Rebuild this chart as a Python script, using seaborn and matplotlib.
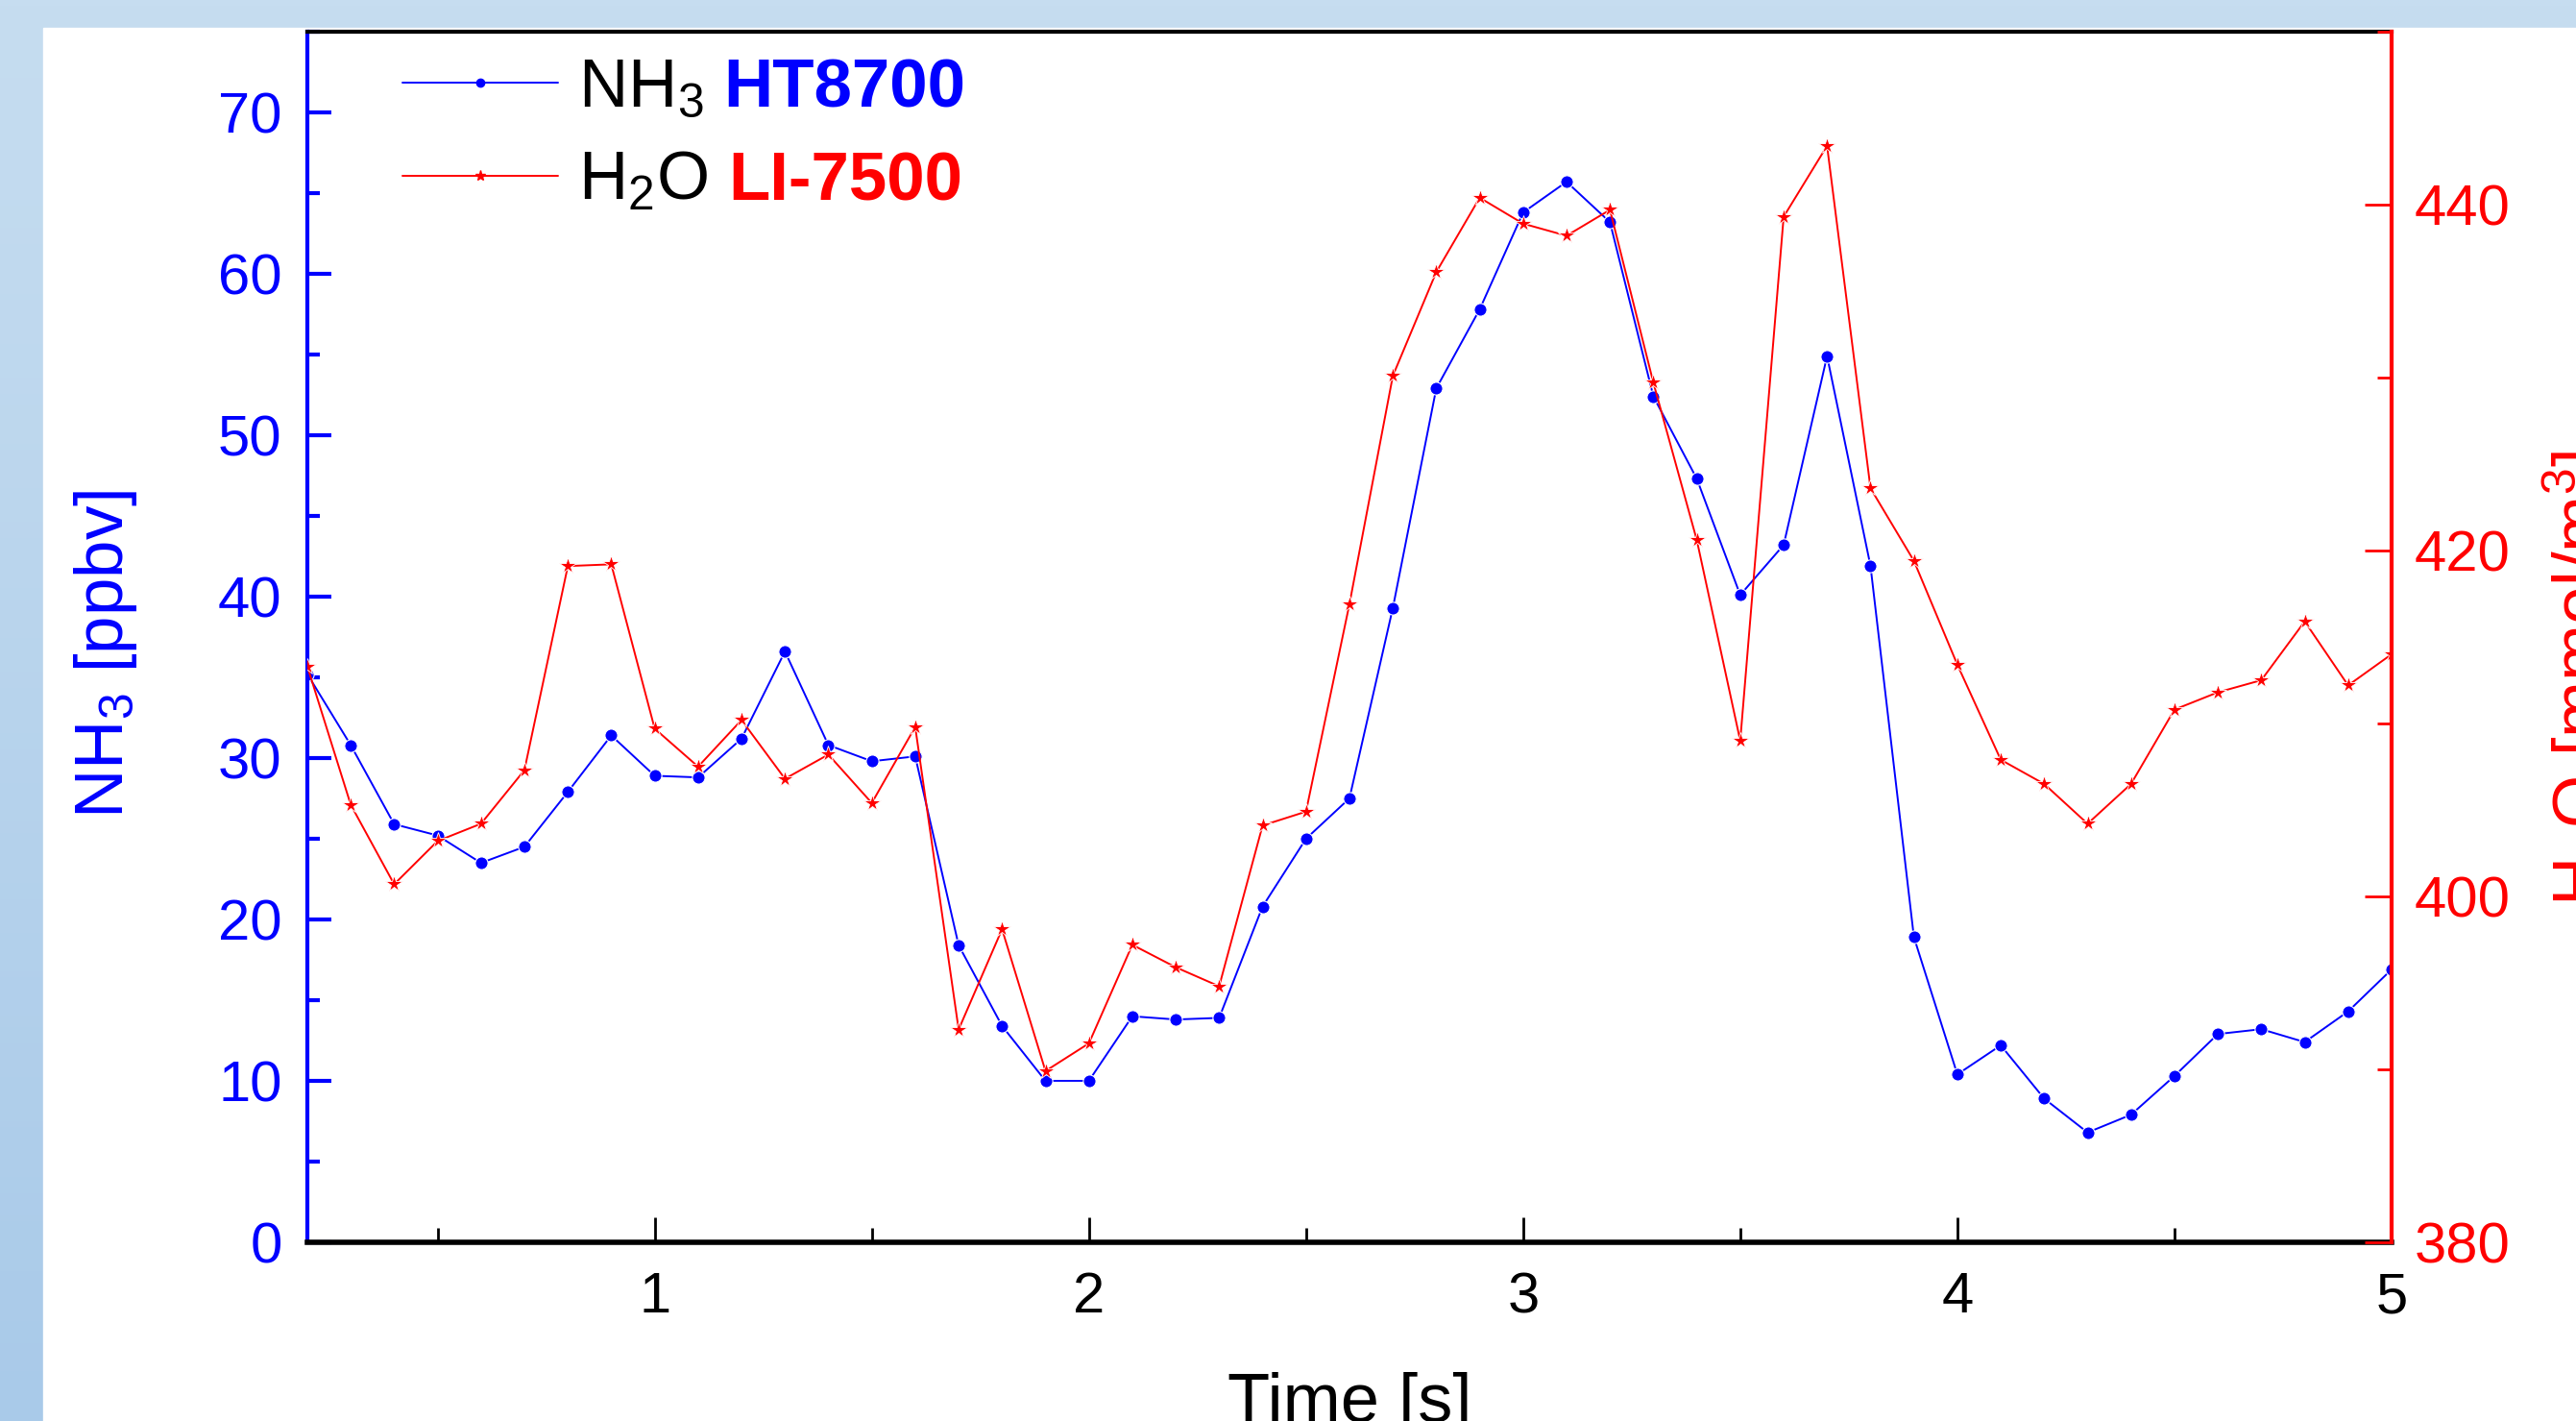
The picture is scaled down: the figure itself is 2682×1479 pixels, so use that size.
import matplotlib
matplotlib.use('Agg')
import matplotlib.pyplot as plt
import numpy as np
import pandas as pd
import seaborn as sns
from matplotlib.colors import LinearSegmentedColormap
from matplotlib.lines import Line2D
from matplotlib.offsetbox import AnchoredOffsetbox, DrawingArea, HPacker, TextArea, VPacker
from matplotlib.patches import Rectangle
from matplotlib.ticker import MultipleLocator

# data (time step 0.1 s)
time_s = [0.2, 0.3, 0.4, 0.5, 0.6, 0.7, 0.8, 0.9, 1.0,
          1.1, 1.2, 1.3, 1.4, 1.5, 1.6, 1.7, 1.8, 1.9, 2.0,
          2.1, 2.2, 2.3, 2.4, 2.5, 2.6, 2.7, 2.8, 2.9, 3.0,
          3.1, 3.2, 3.3, 3.4, 3.5, 3.6, 3.7, 3.8, 3.9, 4.0,
          4.1, 4.2, 4.3, 4.4, 4.5, 4.6, 4.7, 4.8, 4.9, 5.0]
nh3_ppbv = [35.2, 30.8, 25.9, 25.2, 23.5, 24.5, 27.9, 31.4, 28.9,
            28.8, 31.2, 36.6, 30.8, 29.8, 30.1, 18.4, 13.4, 10.0, 10.0,
            14.0, 13.8, 13.9, 20.8, 25.0, 27.5, 39.3, 52.9, 57.8, 63.8,
            65.7, 63.2, 52.4, 47.3, 40.1, 43.2, 54.9, 41.9, 18.9, 10.4,
            12.2, 8.9, 6.8, 7.9, 10.3, 12.9, 13.2, 12.4, 14.3, 16.9]
h2o_mmol = [413.3, 405.3, 400.7, 403.2, 404.2, 407.3, 419.1, 419.2, 409.7,
            407.5, 410.2, 406.8, 408.2, 405.4, 409.8, 392.3, 398.1, 389.9, 391.5,
            397.2, 395.9, 394.8, 404.1, 404.9, 416.9, 430.1, 436.1, 440.4, 438.9,
            438.2, 439.7, 429.7, 420.6, 409.0, 439.3, 443.4, 423.6, 419.4, 413.4,
            407.9, 406.5, 404.2, 406.5, 410.8, 411.8, 412.5, 415.9, 412.2, 414.0]

x_ticks = [1, 2, 3, 4, 5]
left_ticks = [0, 10, 20, 30, 40, 50, 60, 70]
right_ticks = [380, 400, 420, 440]

df = pd.DataFrame({'time': time_s, 'nh3': nh3_ppbv, 'h2o': h2o_mmol})

sns.set_style('ticks')
plt.rcParams['font.family'] = ['Liberation Sans', 'DejaVu Sans']
plt.rcParams['mathtext.fontset'] = 'custom'
plt.rcParams['mathtext.rm'] = 'Liberation Sans'
plt.rcParams['mathtext.it'] = 'Liberation Sans:italic'
plt.rcParams['mathtext.bf'] = 'Liberation Sans:bold'

fig = plt.figure(figsize=(26.82, 14.79), dpi=100)

# light blue slide background with white panel
bg = fig.add_axes([0, 0, 1, 1], zorder=-10)
grad = np.linspace(0, 1, 256).reshape(-1, 1)
bg_cmap = LinearSegmentedColormap.from_list('bg', ['#c6ddf0', '#a9cae9'])
bg.imshow(grad, cmap=bg_cmap, aspect='auto', extent=[0, 1, 0, 1], origin='upper')
bg.add_patch(Rectangle((45 / 2682, 0), 1, 1 - 29 / 1479, color='white'))
bg.set_xlim(0, 1)
bg.set_ylim(0, 1)
bg.axis('off')

ax = fig.add_axes([0.1193, 0.1258, 0.8091, 0.8519])
ax2 = ax.twinx()

sns.lineplot(data=df, x='time', y='nh3', ax=ax, color='blue', marker='o',
             markersize=9.5, linewidth=1.4, markeredgewidth=0.8, legend=False)
sns.lineplot(data=df, x='time', y='h2o', ax=ax2, color='red', marker='*',
             markersize=13, linewidth=1.4, markeredgewidth=0.6, legend=False)

ax.set_xlim(0.2, 5)
ax.set_ylim(0, 75)
ax2.set_ylim(380, 450)

ax.set_xticks(x_ticks)
ax.xaxis.set_minor_locator(MultipleLocator(0.5))
ax.set_yticks(left_ticks)
ax.yaxis.set_minor_locator(MultipleLocator(5))
ax2.set_yticks(right_ticks)
ax2.yaxis.set_minor_locator(MultipleLocator(10))

ax.tick_params(axis='x', which='major', direction='in', length=19, width=2,
               color='black', labelcolor='black', labelsize=43, pad=22)
ax.tick_params(axis='x', which='minor', direction='in', length=11, width=2, color='black')
ax.tick_params(axis='y', which='major', direction='in', length=18, width=3,
               color='blue', labelcolor='blue', labelsize=43, pad=19)
ax.tick_params(axis='y', which='minor', direction='in', length=9, width=3, color='blue')
ax2.tick_params(axis='y', which='major', direction='in', length=20, width=2,
                color='red', labelcolor='red', labelsize=43, pad=17)
ax2.tick_params(axis='y', which='minor', direction='in', length=11, width=2, color='red')

ax.spines['left'].set_color('blue')
ax.spines['left'].set_linewidth(3)
ax.spines['bottom'].set_color('black')
ax.spines['bottom'].set_linewidth(4)
ax.spines['top'].set_color('black')
ax.spines['top'].set_linewidth(3)
ax.spines['right'].set_visible(False)
for s in ['left', 'top', 'bottom']:
    ax2.spines[s].set_visible(False)
ax2.spines['right'].set_color('red')
ax2.spines['right'].set_linewidth(3)

ax.set_xlabel('Time [s]', fontsize=52, color='black')
ax.xaxis.set_label_coords(0.5, -0.107)
ax.set_ylabel('NH$_3$ [ppbv]', fontsize=51, color='blue')
ax.yaxis.set_label_coords(-0.0806, 0.486)
ax2.set_ylabel('H$_2$O [mmol/m$^3$]', fontsize=51, color='red')
ax2.yaxis.set_label_coords(1.0714, 0.466)


# legend: black species name + coloured bold instrument name
def legend_row(color, marker, msize, name, model):
    da = DrawingArea(117, 40, 0, 0)
    da.add_artist(Line2D([0, 58.5, 117], [18.4, 18.4, 18.4], color=color, lw=1.4,
                         marker=marker, markersize=msize, markevery=[1],
                         markerfacecolor=color, markeredgecolor=color))
    t1 = TextArea(name, textprops=dict(fontsize=51, color='black'))
    t2 = TextArea(model, textprops=dict(fontsize=51, color=color, fontweight='bold'))
    return HPacker(children=[da, t1, t2], align='baseline', pad=0, sep=15)


rows = VPacker(children=[legend_row('blue', 'o', 6, 'NH$_3$', 'HT8700'),
                         legend_row('red', '*', 8, 'H$_2$O', 'LI-7500')],
               align='left', pad=0, sep=19)
leg = AnchoredOffsetbox(loc='upper left', child=rows, pad=0, borderpad=0, frameon=False,
                        bbox_to_anchor=(0.0456, 0.982), bbox_transform=ax.transAxes)
ax2.add_artist(leg)

plt.savefig('out.png', dpi=100)
